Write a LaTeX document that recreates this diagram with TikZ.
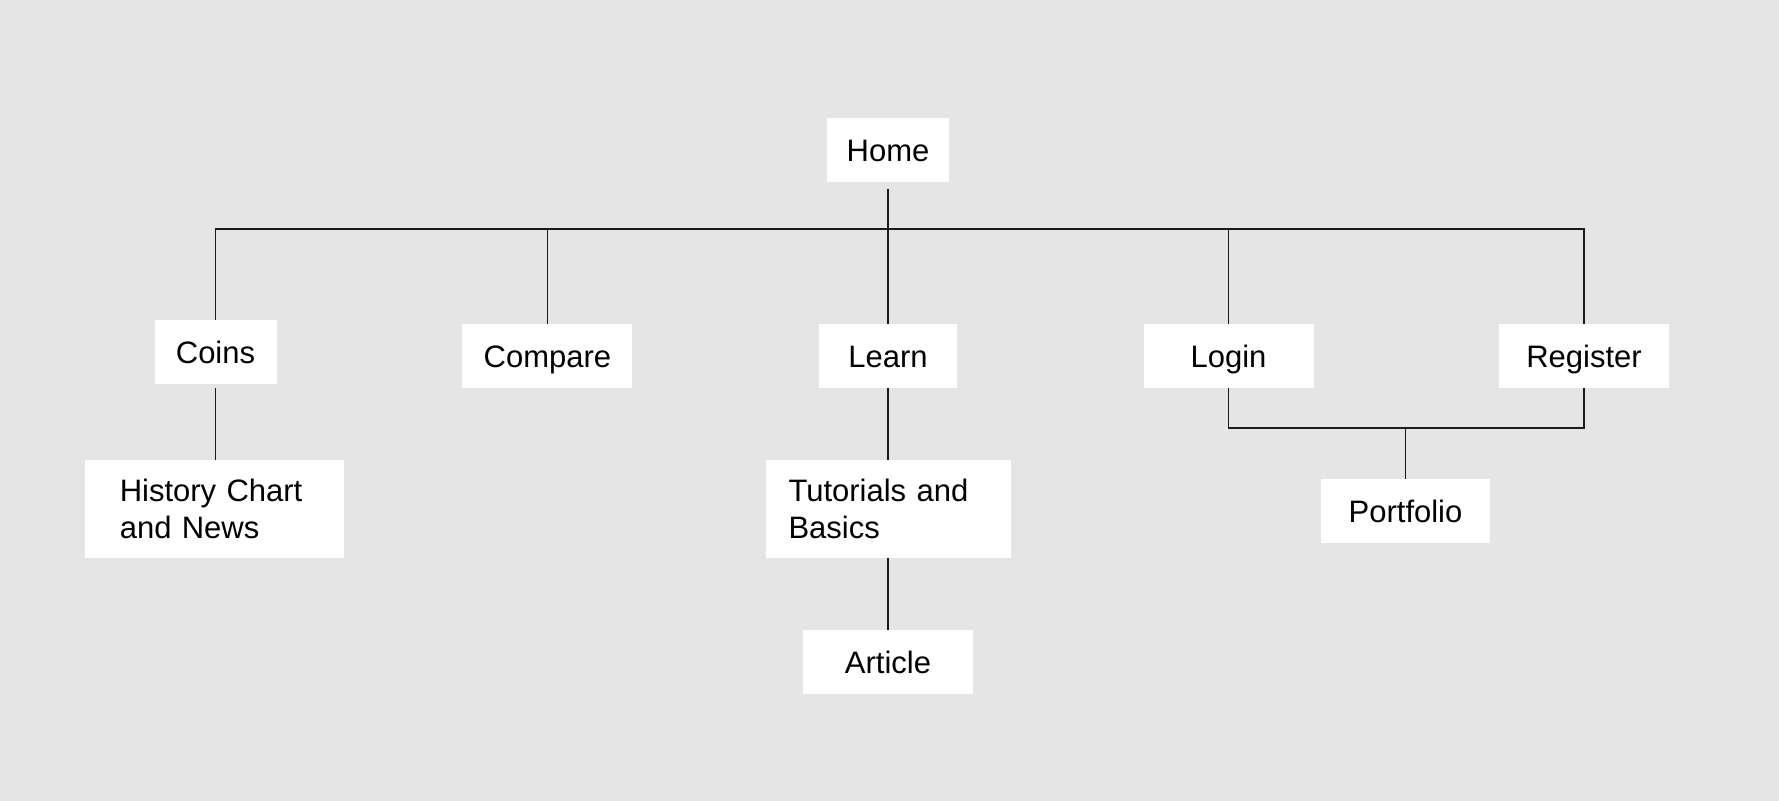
\documentclass[tikz,border=0pt]{standalone}
\usepackage{fontspec}
\setmainfont{Liberation Sans}
\definecolor{bg}{HTML}{E5E5E5}
\definecolor{ln}{HTML}{1A1A1A}
\begin{document}
\begin{tikzpicture}[x=1pt,y=-1pt]
	\tikzset{b/.style={fill=white,inner sep=0pt,minimum height=63.7pt,font=\fontsize{31}{37.5}\selectfont,text height=22.2pt,text depth=0pt},
		bb/.style={fill=white,inner ysep=0pt,minimum height=97.7pt,font=\fontsize{31}{37.5}\selectfont,align=left},
		c/.style={draw=ln,line width=1.3pt}}
	\fill[bg](0,0)rectangle(1779,801);
	\useasboundingbox(0,0)rectangle(1779,801);
	%% hàng 1
	\node[b,minimum width=122pt,minimum height=63.5pt](Home)at(888,150.2){Home};
	%% hàng 2
	\node[b,minimum width=122pt](Coins)at(215.5,352){Coins};
	\node[b,minimum width=170pt](Compare)at(547.4,356){Compare};
	\node[b,minimum width=138pt](Learn)at(888,356){Learn};
	\node[b,minimum width=170pt](Login)at(1228.5,356){Login};
	\node[b,minimum width=170pt](Register)at(1584,356){Register};
	%% hàng 3
	\node[bb,inner xsep=35pt,text width=189pt](History)at(214.3,509){History Chart\\and News};
	\node[bb,inner xsep=23pt,text width=199pt](Tutorials)at(888,509){Tutorials and\\Basics};
	\node[b,minimum width=169pt](Portfolio)at(1405.5,511){Portfolio};
	%% hàng 4
	\node[b,minimum width=169.6pt](Article)at(888,662){Article};
	\coordinate(bus)at(888,229);
	\coordinate(join)at(1405.5,428);
	\draw[c,shorten <=7pt](Home.south)--(Learn.north);
	\foreach \n in {Coins,Compare,Login,Register}
	\draw[c](\n.north)|-(bus);
	\draw[c,shorten <=4pt](Coins.south)--(Coins.south|-History.north);
	\foreach \x/\y in {Learn/Tutorials,Tutorials/Article}
	\draw[c](\x.south)--(\y.north);
	\draw[c](Login.south)|-(join)-|(Register.south);
	\draw[c](join)--(Portfolio.north);
\end{tikzpicture}
\end{document}
